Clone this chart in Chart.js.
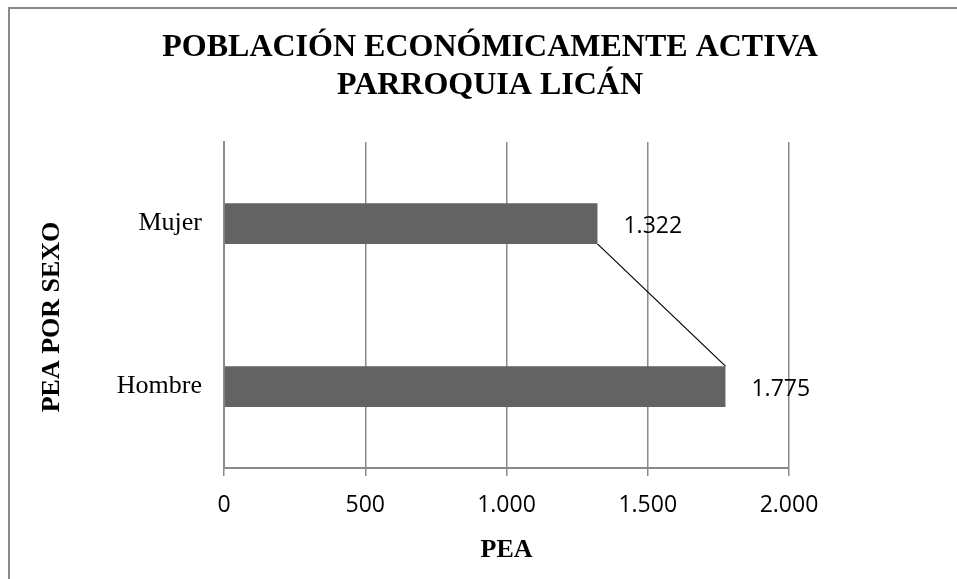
<!DOCTYPE html>
<html>
<head>
<meta charset="utf-8">
<script src="https://cdn.jsdelivr.net/npm/chart.js@4.4.1/dist/chart.umd.min.js"></script>
<style>
  html, body { margin: 0; padding: 0; background: #ffffff; }
  #wrap { width: 957px; height: 579px; position: relative; }
</style>
</head>
<body>
<div id="wrap"><canvas id="c" width="957" height="579"></canvas></div>
<script>
const categories = ['Mujer', 'Hombre'];
const peaValues = [1322, 1775];
const xTickValues = [0, 500, 1000, 1500, 2000];
const xTickLabels = ['0', '500', '1.000', '1.500', '2.000'];
const titleLines = ['POBLACIÓN ECONÓMICAMENTE ACTIVA', 'PARROQUIA LICÁN'];
const xAxisTitle = 'PEA';
const yAxisTitle = 'PEA POR SEXO';

const SERIF = '"Liberation Serif", "DejaVu Serif", serif';
const SANS = '"Open Sans", "Liberation Sans", sans-serif';

function fmtThousands(v) {
  return String(v).replace(/\B(?=(\d{3})+(?!\d))/g, '.');
}

const framePlugin = {
  id: 'frame',
  beforeDraw(chart) {
    const ctx = chart.ctx;
    ctx.save();
    ctx.fillStyle = '#ffffff';
    ctx.fillRect(0, 0, chart.width, chart.height);
    ctx.strokeStyle = '#8a8a8a';
    ctx.lineWidth = 2;
    ctx.beginPath();
    ctx.moveTo(chart.width, 8);
    ctx.lineTo(9, 8);
    ctx.lineTo(9, chart.height);
    ctx.stroke();
    // main title
    ctx.fillStyle = '#000000';
    ctx.textAlign = 'center';
    ctx.textBaseline = 'middle';
    ctx.font = 'bold 32px ' + SERIF;
    titleLines.forEach((t, i) => ctx.fillText(t, 490, 48 + i * 38));
    // y axis title (rotated)
    ctx.translate(52, 317);
    ctx.rotate(-Math.PI / 2);
    ctx.font = 'bold 26px ' + SERIF;
    ctx.fillText(yAxisTitle, 0, 0);
    ctx.restore();
  }
};

const seriesLinePlugin = {
  id: 'seriesLine',
  afterDatasetsDraw(chart) {
    const meta = chart.getDatasetMeta(0);
    const ctx = chart.ctx;
    ctx.save();
    ctx.strokeStyle = '#000000';
    ctx.lineWidth = 1.2;
    ctx.beginPath();
    for (let i = 0; i < meta.data.length - 1; i++) {
      const a = meta.data[i], b = meta.data[i + 1];
      ctx.moveTo(a.x, a.y + a.height / 2);
      ctx.lineTo(b.x, b.y - b.height / 2);
    }
    ctx.stroke();
    // data labels
    ctx.fillStyle = '#000000';
    ctx.font = '23px ' + SANS;
    ctx.textAlign = 'left';
    ctx.textBaseline = 'middle';
    meta.data.forEach((bar, i) => {
      ctx.fillText(fmtThousands(peaValues[i]), bar.x + 26, bar.y + 3);
    });
    ctx.restore();
  }
};

new Chart(document.getElementById('c'), {
  type: 'bar',
  data: {
    labels: categories,
    datasets: [{
      data: peaValues,
      backgroundColor: '#636363',
      borderWidth: 0,
      categoryPercentage: 1,
      barPercentage: 0.25
    }]
  },
  options: {
    indexAxis: 'y',
    responsive: false,
    animation: false,
    devicePixelRatio: 1,
    layout: { padding: { left: 0, right: 168, top: 142, bottom: 0 } },
    plugins: {
      legend: { display: false },
      tooltip: { enabled: false },
      title: { display: false }
    },
    scales: {
      x: {
        type: 'linear',
        min: 0,
        max: 2000,
        afterBuildTicks(scale) {
          scale.ticks = xTickValues.map(v => ({ value: v }));
        },
        afterFit(scale) { scale.height = 111; },
        ticks: {
          color: '#000000',
          font: { family: SANS, size: 23 },
          padding: 16,
          maxRotation: 0,
          autoSkip: false,
          callback: (v) => xTickLabels[xTickValues.indexOf(v)]
        },
        grid: {
          color: '#8a8a8a',
          lineWidth: 1.5,
          drawTicks: true,
          tickLength: 8
        },
        border: { display: true, color: '#8a8a8a', width: 2 },
        title: {
          display: true,
          text: xAxisTitle,
          color: '#000000',
          font: { family: SERIF, size: 26, weight: 'bold', lineHeight: 1.2 },
          padding: { top: 0, bottom: 13 }
        }
      },
      y: {
        type: 'category',
        afterFit(scale) { scale.width = 224; },
        ticks: {
          color: '#000000',
          font: { family: SERIF, size: 26 },
          padding: 22
        },
        grid: { display: false, drawTicks: false },
        border: { display: true, color: '#8a8a8a', width: 2 },
        title: { display: false }
      }
    }
  },
  plugins: [framePlugin, seriesLinePlugin]
});
</script>
</body>
</html>
